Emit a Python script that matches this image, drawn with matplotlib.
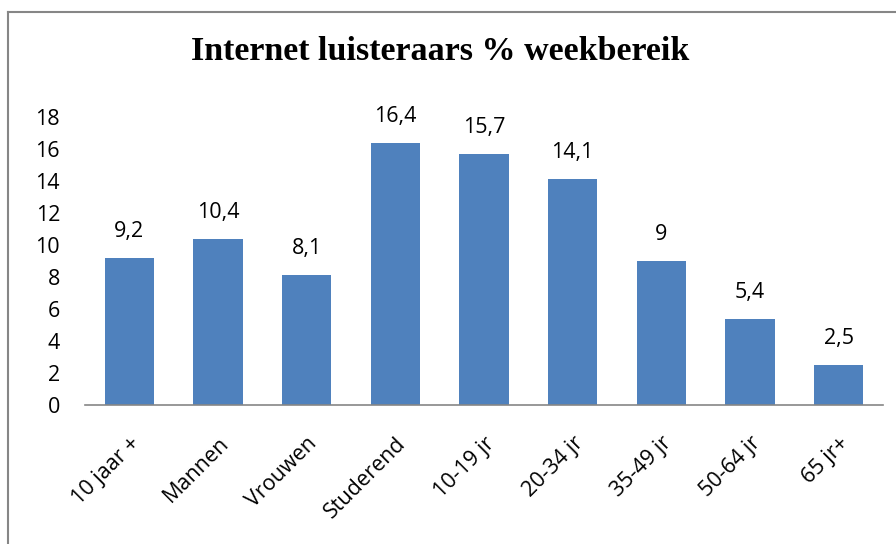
import matplotlib.pyplot as plt
from matplotlib.lines import Line2D

categories = ["10 jaar +", "Mannen", "Vrouwen", "Studerend", "10-19 jr",
              "20-34 jr", "35-49 jr", "50-64 jr", "65 jr+"]
values = [9.2, 10.4, 8.1, 16.4, 15.7, 14.1, 9, 5.4, 2.5]
value_labels = ["9,2", "10,4", "8,1", "16,4", "15,7", "14,1", "9", "5,4", "2,5"]
y_ticks = [0, 2, 4, 6, 8, 10, 12, 14, 16, 18]

bar_color = "#4F81BD"
label_font = "Open Sans"
label_size = 15.5

fig = plt.figure(figsize=(8.96, 5.44), dpi=100)
fig.patch.set_facecolor("white")

# chart border (only top and left visible in the original crop)
fig.add_artist(Line2D([8 / 896, 8 / 896], [0, 1 - 12 / 544], transform=fig.transFigure,
                      color="#868686", lw=1.5))
fig.add_artist(Line2D([8 / 896, 1], [1 - 12 / 544, 1 - 12 / 544], transform=fig.transFigure,
                      color="#868686", lw=1.5))

ax = fig.add_axes([85 / 896, 1 - 405 / 544, (883 - 85) / 896, (405 - 117) / 544])
x = range(len(categories))
ax.bar(x, values, width=0.56, color=bar_color)

for i, (v, lab) in enumerate(zip(values, value_labels)):
    ax.text(i, v + 1.0, lab, ha="center", va="bottom", fontsize=label_size, family=label_font)

ax.set_xlim(-0.5, len(categories) - 0.5)
ax.set_ylim(0, 18)
ax.set_yticks(y_ticks)
ax.set_yticklabels([str(t) for t in y_ticks], fontsize=label_size, family=label_font)
ax.set_xticks(list(x))
ax.set_xticklabels(categories, rotation=45, ha="right", rotation_mode="anchor",
                   fontsize=label_size, family=label_font)
ax.tick_params(axis="y", length=0, pad=18)
ax.tick_params(axis="x", length=0, pad=20)

for side in ["top", "right", "left"]:
    ax.spines[side].set_visible(False)
ax.spines["bottom"].set_color("#868686")
ax.spines["bottom"].set_linewidth(1.2)

fig.text(440 / 896, 1 - 52 / 544, "Internet luisteraars % weekbereik",
         ha="center", va="center", fontsize=24.5, fontweight="bold",
         family="Liberation Serif")

fig.savefig("out.png", dpi=100)
